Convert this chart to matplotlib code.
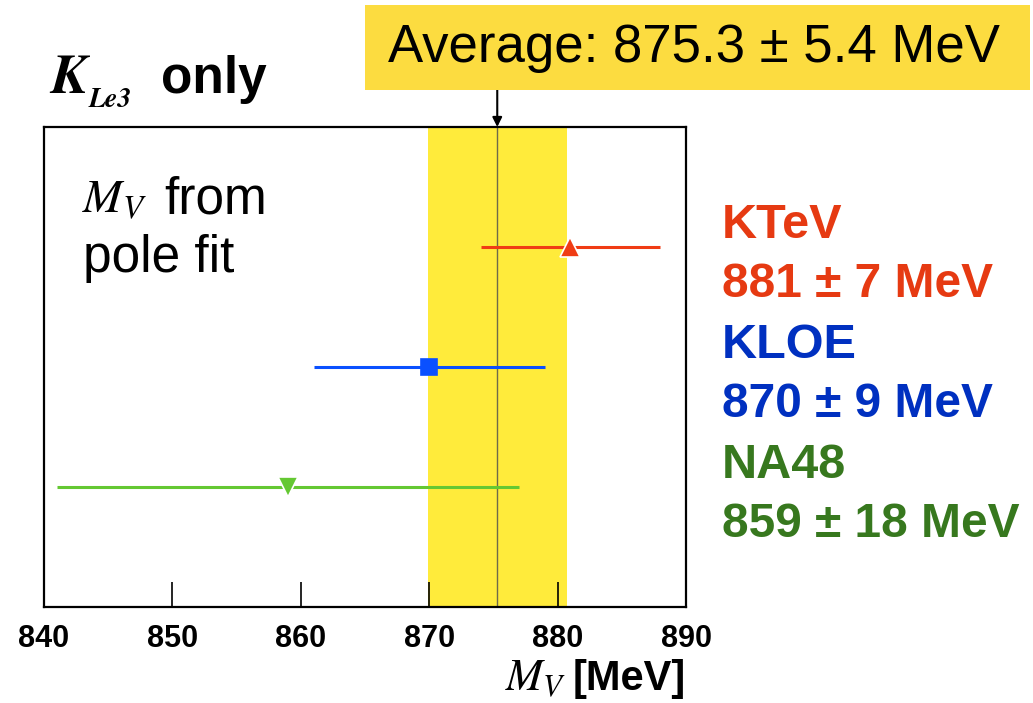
import matplotlib
matplotlib.use("Agg")
import matplotlib.pyplot as plt
from matplotlib import font_manager
from matplotlib.patches import Rectangle
import numpy as np

# ---- data ----
experiments = ["KTeV", "KLOE", "NA48"]
central = [881, 870, 859]
errors = [7, 9, 18]
average = 875.3
average_err = 5.4
xticks = [840, 850, 860, 870, 880, 890]

line_colors = ["#F03C14", "#0A50FF", "#64C832"]
text_colors = ["#E63A12", "#0030C0", "#37781E"]
markers = ["^", "s", "v"]
marker_sizes = [15, 12, 15]
marker_edges = ["white", "#0A50FF", "white"]

names = {f.name for f in font_manager.fontManager.ttflist}
narrow = "Liberation Sans Narrow" if "Liberation Sans Narrow" in names else "Liberation Sans"
sans = "Liberation Sans"

plt.rcParams["mathtext.fontset"] = "stix"

W, H = 1033, 703
fig = plt.figure(figsize=(W / 100, H / 100), dpi=100)
ax = fig.add_axes([44 / W, 96 / H, 642 / W, 480 / H])
ax.set_xlim(840, 890)
ax.set_ylim(0, 4)

ax.axvspan(average - average_err, average + average_err, color="#FFEB3B", lw=0, zorder=0)
ax.axvline(average, color="#6E6A4A", lw=1.0, zorder=1)

n = len(experiments)
ypos = np.arange(n, 0, -1)
for i in range(n):
    ax.errorbar(central[i], ypos[i], xerr=errors[i], fmt=markers[i], color=line_colors[i],
                ms=marker_sizes[i], lw=2.2, capsize=0, mec=marker_edges[i], mew=1.2, zorder=3)

ax.set_xticks(xticks)
ax.set_yticks([])
ax.tick_params(axis="x", direction="in", length=18, width=1.2, pad=12, top=False)
for lab in ax.get_xticklabels():
    lab.set_fontfamily(narrow)
    lab.set_fontweight("bold")
    lab.set_fontsize(22)
for s in ax.spines.values():
    s.set_linewidth(1.6)
    s.set_zorder(5)

# x label
fig.text(686 / W, 1 - 690 / H, "[MeV]", ha="right", va="baseline",
         fontfamily=narrow, fontweight="bold", fontsize=30)
fig.text(505 / W, 1 - 690 / H, r"$M_V$", ha="left", va="baseline", fontsize=32)

# title "K_Le3 only"
fig.text(50 / W, 1 - 93 / H, "K", fontfamily="STIXGeneral", fontstyle="italic",
         fontweight="bold", fontsize=40, ha="left", va="baseline")
fig.text(89 / W, 1 - 107 / H, "Le3", fontfamily="STIXGeneral", fontstyle="italic",
         fontweight="bold", fontsize=20, ha="left", va="baseline")
fig.text(161 / W, 1 - 93 / H, "only", fontfamily=sans, fontweight="bold",
         fontsize=37, ha="left", va="baseline")

# inner text
fig.text(82 / W, 1 - 213 / H, r"$M_V$", fontsize=34, ha="left", va="baseline")
fig.text(164 / W, 1 - 213 / H, "from", fontfamily=sans, fontsize=37,
         ha="left", va="baseline")
fig.text(83 / W, 1 - 272 / H, "pole fit", fontfamily=sans, fontsize=37,
         ha="left", va="baseline")

# right labels
base = 238
for i in range(n):
    fig.text(722 / W, 1 - (base + 120 * i) / H, experiments[i], color=text_colors[i],
             fontfamily=sans, fontweight="bold", fontsize=35, ha="left", va="baseline")
    fig.text(722 / W, 1 - (base + 59 + 120 * i) / H,
             f"{central[i]} \u00b1 {errors[i]} MeV", color=text_colors[i],
             fontfamily=sans, fontweight="bold", fontsize=34.5, ha="left", va="baseline")

# average box
fig.patches.append(Rectangle((365 / W, 1 - 90 / H), 665 / W, 85 / H,
                             transform=fig.transFigure, facecolor="#FCDC40",
                             edgecolor="none", zorder=0))
fig.text(694 / W, 1 - 48 / H, f"Average: {average} \u00b1 {average_err} MeV",
         fontfamily=sans, fontsize=38, ha="center", va="center", zorder=2)
ax.annotate("", xy=(average, 4), xycoords="data",
            xytext=(average, 1 - 90 / H), textcoords=("data", "figure fraction"),
            arrowprops=dict(arrowstyle="-|>", color="black", lw=1.5,
                            mutation_scale=14, shrinkA=0, shrinkB=0),
            annotation_clip=False)

fig.savefig("out.png", dpi=100)
